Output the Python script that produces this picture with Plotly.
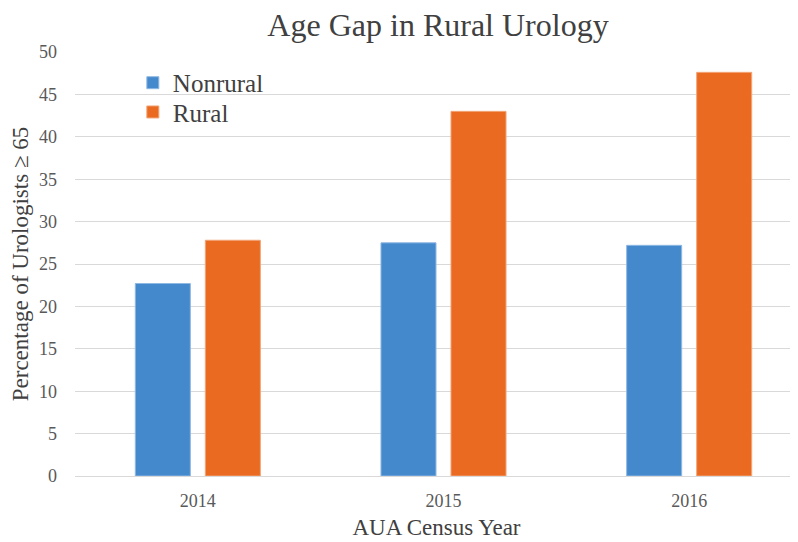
import plotly.graph_objects as go

years = ["2014", "2015", "2016"]
nonrural = [22.7, 27.5, 27.2]
rural = [27.8, 43.0, 47.6]
y_ticks = [0, 5, 10, 15, 20, 25, 30, 35, 40, 45, 50]

serif = "Liberation Serif, Times New Roman, serif"

# page body has an 8px default margin; size the figure so it fits the 798x542 window
W, H = 790, 534

fig = go.Figure()
fig.add_trace(go.Bar(name="Nonrural", x=years, y=nonrural, legend="legend", showlegend=True,
                     marker=dict(color="#4589CD", line=dict(color="#8FB8E3", width=1))))
fig.add_trace(go.Bar(name="Rural", x=years, y=rural, legend="legend2", showlegend=True,
                     marker=dict(color="#E96A20", line=dict(color="#F2A578", width=1))))

leg_font = dict(size=25, color="#404040", family=serif)

fig.update_layout(
    width=W, height=H,
    showlegend=True,
    margin=dict(l=67, r=0, t=44, b=66),
    paper_bgcolor="white", plot_bgcolor="white",
    barmode="group", bargap=0.43, bargroupgap=0.214,
    font=dict(family=serif, color="#595959"),
    title=dict(text="Age Gap in Rural Urology", x=430 / W, xanchor="center",
               y=1 - 17 / H, yanchor="middle", xref="container", yref="container",
               font=dict(size=32, color="#404040", family=serif)),
    legend=dict(x=0.080, y=0.927, xanchor="left", yanchor="middle",
                font=leg_font, bgcolor="rgba(0,0,0,0)", visible=True),
    legend2=dict(x=0.080, y=0.858, xanchor="left", yanchor="middle",
                 font=leg_font, bgcolor="rgba(0,0,0,0)", visible=True),
    xaxis=dict(range=[-0.5, 2.443], showgrid=False, showline=False, zeroline=False,
               ticks="", tickfont=dict(size=18, color="#595959"), ticklabelstandoff=12,
               title=dict(text="AUA Census Year", font=dict(size=23, color="#404040"), standoff=8)),
    yaxis=dict(range=[0, 50], tickvals=y_ticks, showgrid=True, gridcolor="#D9D9D9", gridwidth=1,
               zeroline=True, zerolinecolor="#D9D9D9", zerolinewidth=1, showline=False,
               ticks="", tickfont=dict(size=18, color="#595959"), ticklabelstandoff=17,
               title=dict(text="Percentage of Urologists ≥ 65", font=dict(size=23, color="#404040"), standoff=8)),
)

fig.write_html("out.html")
